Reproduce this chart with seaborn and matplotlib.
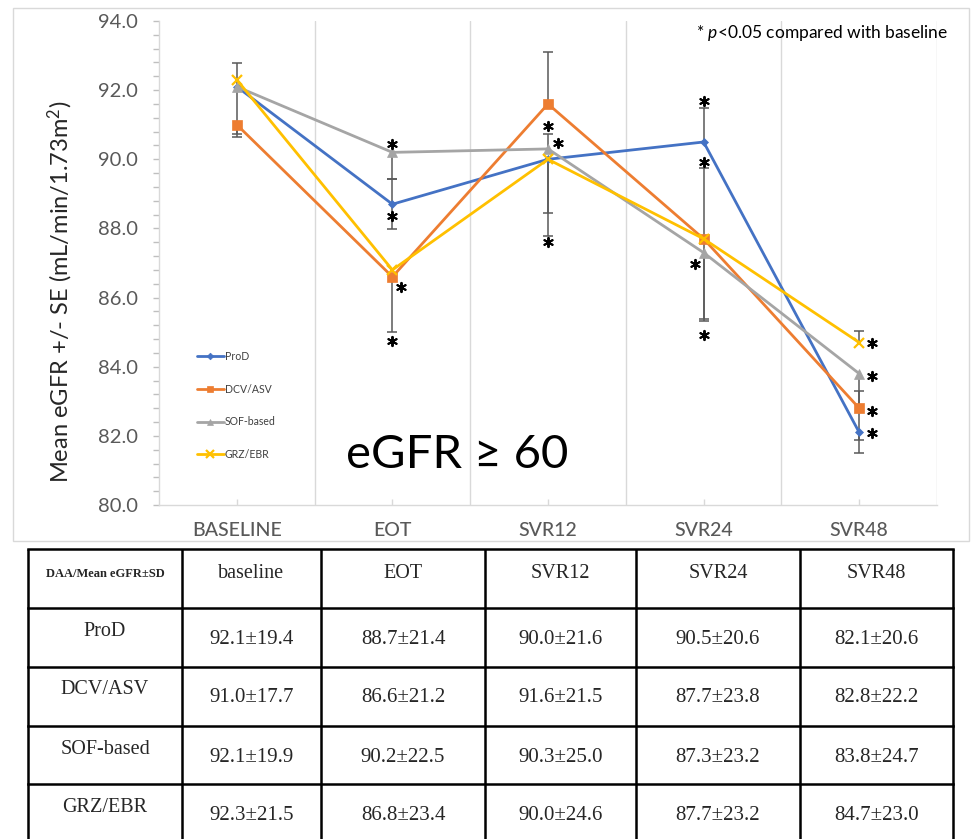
import numpy as np
import pandas as pd
import matplotlib
matplotlib.use("Agg")
import matplotlib.pyplot as plt
from matplotlib.patches import Rectangle
from matplotlib.ticker import MultipleLocator
import seaborn as sns

# ---- data -------------------------------------------------------------
timepoints = ["BASELINE", "EOT", "SVR12", "SVR24", "SVR48"]
table_cols = ["baseline", "EOT", "SVR12", "SVR24", "SVR48"]
regimens = ["ProD", "DCV/ASV", "SOF-based", "GRZ/EBR"]

prod_mean = [92.1, 88.7, 90.0, 90.5, 82.1]
dcv_mean = [91.0, 86.6, 91.6, 87.7, 82.8]
sof_mean = [92.1, 90.2, 90.3, 87.3, 83.8]
grz_mean = [92.3, 86.8, 90.0, 87.7, 84.7]

# standard-error whiskers drawn below / above each mean
prod_se_lo = [0.0, 0.73, 1.56, 0.0, 0.22]
prod_se_hi = [0.68, 0.73, 0.0, 0.97, 0.0]
dcv_se_lo = [0.28, 1.60, 0.0, 2.33, 0.0]
dcv_se_hi = [0.0, 0.0, 1.49, 2.04, 0.51]
sof_se_lo = [1.46, 0.77, 0.0, 1.98, 2.29]
sof_se_hi = [0.0, 0.0, 0.42, 0.0, 0.0]
grz_se_lo = [0.0, 0.0, 2.21, 0.0, 0.0]
grz_se_hi = [0.0, 0.0, 0.0, 0.0, 0.34]

# standard deviations listed in the table
prod_sd = [19.4, 21.4, 21.6, 20.6, 20.6]
dcv_sd = [17.7, 21.2, 21.5, 23.8, 22.2]
sof_sd = [19.9, 22.5, 25.0, 23.2, 24.7]
grz_sd = [21.5, 23.4, 24.6, 23.2, 23.0]

# significance marks (p<0.05 vs baseline): timepoint index and level
sig_idx = [1, 1, 1, 1, 2, 2, 2, 3, 3, 3, 3, 4, 4, 4, 4]
sig_val = [90.43, 88.36, 86.31, 84.75, 90.96, 90.46, 87.60,
           91.69, 89.93, 86.96, 84.92, 84.68, 83.73, 82.73, 82.09]
sig_shift = [0, 0, 0.056, 0, 0, 0.065, 0, 0, 0, -0.058, 0,
             0.082, 0.082, 0.082, 0.082]

means = [prod_mean, dcv_mean, sof_mean, grz_mean]
se_lo = [prod_se_lo, dcv_se_lo, sof_se_lo, grz_se_lo]
se_hi = [prod_se_hi, dcv_se_hi, sof_se_hi, grz_se_hi]
sds = [prod_sd, dcv_sd, sof_sd, grz_sd]

colors = ["#4472C4", "#ED7D31", "#A5A5A5", "#FFC000"]
markers = ["D", "s", "^", "x"]
msizes = [4.5, 6.5, 6.5, 7]

# ---- style ------------------------------------------------------------
sns.set_theme(style="white")
plt.rcParams["font.family"] = ["Lato", "DejaVu Sans"]
plt.rcParams["mathtext.fontset"] = "custom"
plt.rcParams["mathtext.rm"] = "Lato"
plt.rcParams["mathtext.it"] = "Lato:italic"

W, H = 971, 839
fig = plt.figure(figsize=(W / 100, H / 100), dpi=100)
fig.patch.set_facecolor("white")

# light frame around the chart block
fig.add_artist(Rectangle((13 / W, 1 - 541 / H), (969 - 13) / W, (541 - 8) / H,
                         transform=fig.transFigure, fill=False,
                         ec="#D9D9D9", lw=1.0))

ax = fig.add_axes([159 / W, 1 - 505 / H, (937 - 159) / W, (505 - 21) / H])
ax.set_facecolor("none")

pos = np.arange(len(timepoints))
long = pd.DataFrame({
    "pos": np.tile(pos, len(regimens)),
    "egfr": np.concatenate(means),
    "regimen": np.repeat(regimens, len(timepoints)),
})

# error whiskers (drawn first so the lines sit on top)
err_col = "#595959"
for m, lo, hi in zip(means, se_lo, se_hi):
    for i in range(len(timepoints)):
        if lo[i] > 0:
            ax.vlines(pos[i], m[i] - lo[i], m[i], color=err_col, lw=1.1, zorder=2)
            ax.plot(pos[i], m[i] - lo[i], marker="_", ms=7, mew=1.1,
                    color=err_col, zorder=2)
        if hi[i] > 0:
            ax.vlines(pos[i], m[i], m[i] + hi[i], color=err_col, lw=1.1, zorder=2)
            ax.plot(pos[i], m[i] + hi[i], marker="_", ms=7, mew=1.1,
                    color=err_col, zorder=2)

for name, c, mk, ms in zip(regimens, colors, markers, msizes):
    sub = long[long["regimen"] == name]
    sns.lineplot(data=sub, x="pos", y="egfr", ax=ax, color=c, lw=2.0,
                 marker=mk, ms=ms, mec=c, mfc=c, mew=1.6 if mk == "x" else 0.5,
                 label=name, zorder=3)

# significance asterisks
ax.scatter(np.array(sig_idx) + np.array(sig_shift), sig_val,
           marker=(6, 2, 0), s=45, color="black", lw=1.4, zorder=5)

# axes cosmetics
ax.set_xlim(-0.5, 4.5)
ax.set_ylim(80, 94)
ax.set_xticks(pos)
ax.set_xticklabels(timepoints)
ax.yaxis.set_major_locator(MultipleLocator(2.0))
ax.yaxis.set_minor_locator(MultipleLocator(0.4))
ax.yaxis.set_major_formatter(matplotlib.ticker.FormatStrFormatter("%.1f"))
ax.tick_params(axis="y", which="both", direction="out", length=4, width=1,
               color="#BFBFBF", left=True, labelsize=14.5, labelcolor="#595959",
               pad=11)
ax.tick_params(axis="x", which="major", direction="in", length=4, width=1,
               color="#D9D9D9", bottom=True, labelsize=14, labelcolor="#595959",
               pad=12)
for lab in ax.get_xticklabels():
    lab.set_fontweight("medium")

for s in ["top", "right"]:
    ax.spines[s].set_visible(False)
for s in ["left", "bottom"]:
    ax.spines[s].set_color("#D9D9D9")
    ax.spines[s].set_linewidth(1.0)

for xb in [0.5, 1.5, 2.5, 3.5, 4.5]:
    ax.axvline(xb, color="#D9D9D9", lw=1.0, zorder=0)

ax.set_xlabel("")
ax.set_ylabel("Mean eGFR +/- SE (mL/min/1.73m$^2$)", fontsize=17,
              color="#262626")
ax.yaxis.set_label_coords(-0.108, 0.44)

# legend inside the plot area
handles, labels = ax.get_legend_handles_labels()
ax.legend(handles, labels, loc="upper left", bbox_to_anchor=(0.049, 0.318),
          frameon=False, fontsize=7.6, labelspacing=2.05, handlelength=2.5,
          handletextpad=0.1, borderpad=0, borderaxespad=0, markerscale=0.75,
          labelcolor="#404040")

ax.text(1.417, 81.45, "eGFR \u2265 60", fontsize=34, ha="center", va="center",
        color="black", family=["Lato", "DejaVu Sans"])

fig.text(948 / W, 1 - 33 / H, "* $\\mathit{p}$<0.05 compared with baseline",
         fontsize=12.5, ha="right", va="center", color="black")

# ---- summary table ----------------------------------------------------
tab = fig.add_axes([0, 0, 1, 1])
tab.set_xlim(0, W)
tab.set_ylim(H, 0)
tab.axis("off")
tab.patch.set_alpha(0)

col_x = [28, 182, 321, 485, 636, 800, 953]
row_y = [549, 608, 667, 726, 784, 843]
for xv in col_x:
    tab.plot([xv, xv], [row_y[0], row_y[-1]], color="black", lw=1.8,
             solid_capstyle="butt", clip_on=False)
for yv in row_y:
    tab.plot([col_x[0], col_x[-1]], [yv, yv], color="black", lw=1.8,
             solid_capstyle="projecting", clip_on=False)

serif = ["Liberation Serif", "DejaVu Serif"]
tab.text((col_x[0] + col_x[1]) / 2, row_y[0] + 25, "DAA/Mean eGFR\u00b1SD",
         ha="center", va="center", fontsize=9, fontweight="bold", family=serif)
for j, name in enumerate(table_cols):
    tab.text((col_x[j + 1] + col_x[j + 2]) / 2, row_y[0] + 25, name,
             ha="center", va="center", fontsize=14.5, family=serif)
for r, (name, m, sd) in enumerate(zip(regimens, means, sds)):
    top = row_y[r + 1]
    tab.text((col_x[0] + col_x[1]) / 2, top + 23, name, ha="center",
             va="center", fontsize=14.5, family=serif)
    for j in range(len(table_cols)):
        tab.text((col_x[j + 1] + col_x[j + 2]) / 2, top + 31,
                 f"{m[j]:.1f}\u00b1{sd[j]:.1f}", ha="center", va="center",
                 fontsize=15, family=serif)

fig.savefig("out.png", dpi=100, facecolor="white")
